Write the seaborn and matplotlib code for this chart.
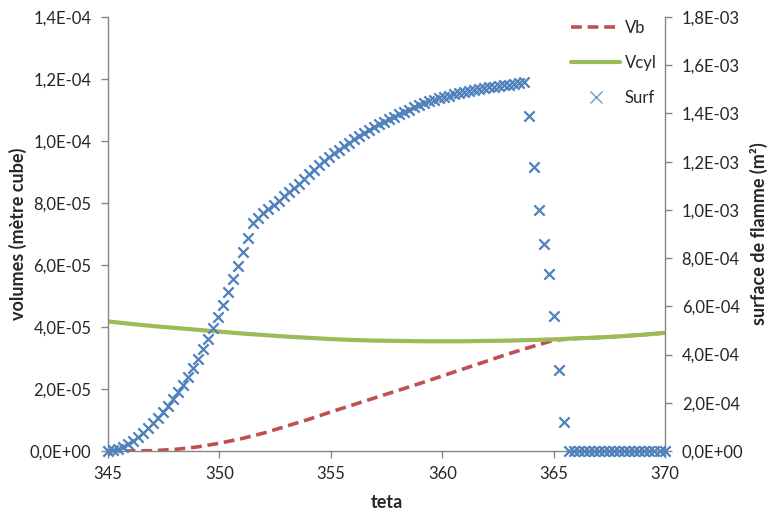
import numpy as np
import matplotlib
matplotlib.use("Agg")
import matplotlib.pyplot as plt
from matplotlib.ticker import FuncFormatter, MultipleLocator
from matplotlib.lines import Line2D
import seaborn as sns

# ---- data ----
teta = [345, 346, 347, 348, 349, 350, 351, 352, 353, 354, 355, 356, 357,
        358, 359, 360, 361, 362, 363, 364, 365, 366, 367, 368, 369, 370]

# volumes in 1e-5 m3
vb = [0.00, 0.00, 0.01, 0.05, 0.13, 0.25, 0.40, 0.58, 0.80, 1.02, 1.26, 1.49,
      1.72, 1.95, 2.18, 2.42, 2.66, 2.90, 3.14, 3.36, 3.57, 3.63, 3.66, 3.70,
      3.75, 3.81]
vcyl = [4.18, 4.10, 4.03, 3.97, 3.91, 3.85, 3.79, 3.74, 3.69, 3.65, 3.61, 3.58,
        3.56, 3.55, 3.54, 3.54, 3.54, 3.55, 3.56, 3.58, 3.60, 3.63, 3.66, 3.70,
        3.75, 3.81]

# flame surface in 1e-3 m2, one sample every surf_step degrees from 345
surf_step = 0.225
surf = [0.000, 0.004, 0.008, 0.017, 0.029, 0.041, 0.058, 0.075, 0.095, 0.116,
        0.137, 0.162, 0.187, 0.216, 0.245, 0.274, 0.307, 0.344, 0.382, 0.423,
        0.465, 0.510, 0.556, 0.606, 0.659, 0.713, 0.767, 0.825, 0.883, 0.946,
        0.966, 0.987, 1.004, 1.020, 1.037, 1.058, 1.074, 1.091, 1.107, 1.128,
        1.149, 1.165, 1.186, 1.203, 1.219, 1.236, 1.248, 1.265, 1.277, 1.294,
        1.306, 1.319, 1.331, 1.344, 1.356, 1.365, 1.377, 1.385, 1.398, 1.406,
        1.414, 1.427, 1.435, 1.443, 1.452, 1.456, 1.464, 1.468, 1.472, 1.481,
        1.485, 1.489, 1.493, 1.497, 1.501, 1.506, 1.510, 1.510, 1.514, 1.518,
        1.518, 1.522, 1.526, 1.530,
        1.389, 1.178, 1.000, 0.858, 0.734, 0.560, 0.336, 0.120,
        0.0, 0.0, 0.0, 0.0, 0.0, 0.0, 0.0, 0.0, 0.0, 0.0,
        0.0, 0.0, 0.0, 0.0, 0.0, 0.0, 0.0, 0.0, 0.0, 0.0]

RED = "#C0504D"
GREEN = "#9BBB59"
BLUE = "#4F81BD"
GREY = "#868686"
TXT = "#262626"

sns.set_style("ticks")
plt.rcParams["font.family"] = ["Lato", "DejaVu Sans"]

teta_arr = np.array(teta, dtype=float)
teta_surf = 345 + surf_step * np.arange(len(surf))

fig = plt.figure(figsize=(7.72, 5.14), dpi=100)
ax = fig.add_axes([0.14, 0.1226, 0.7215, 0.8444])
ax2 = ax.twinx()

sns.lineplot(x=teta_arr, y=np.array(vb) * 1e-5, ax=ax, color=RED, linewidth=2.6, legend=False)
sns.lineplot(x=teta_arr, y=np.array(vcyl) * 1e-5, ax=ax, color=GREEN, linewidth=3.0, legend=False)
ax.lines[0].set_dashes([3, 1.6])
sns.scatterplot(x=teta_surf, y=np.array(surf) * 1e-3, ax=ax2, marker="x", color=BLUE,
                s=55, linewidth=1.6, legend=False, clip_on=False, zorder=5)

ax.set_xlim(345, 370)
ax.set_ylim(0, 1.4e-4)
ax2.set_ylim(0, 1.8e-3)
ax.xaxis.set_major_locator(MultipleLocator(5))
ax.yaxis.set_major_locator(MultipleLocator(2e-5))
ax2.yaxis.set_major_locator(MultipleLocator(2e-4))

fmt = FuncFormatter(lambda v, p: f"{v:.1E}".replace(".", ","))
ax.yaxis.set_major_formatter(fmt)
ax2.yaxis.set_major_formatter(fmt)

for a in (ax, ax2):
    a.spines["top"].set_visible(False)
    for s in ("left", "right", "bottom"):
        a.spines[s].set_color(GREY)
        a.spines[s].set_linewidth(1.0)
    a.tick_params(colors=GREY, labelcolor=TXT, length=5, width=1, labelsize=12, direction="out")
ax.spines["right"].set_visible(False)
ax2.spines["left"].set_visible(False)
ax2.spines["bottom"].set_visible(False)
ax.tick_params(axis="y", pad=7)
ax.tick_params(axis="x", pad=6)
ax2.tick_params(axis="y", pad=7)

ax.set_xlabel("teta", fontsize=13, fontweight="bold", color=TXT)
ax.set_ylabel("volumes (mètre cube)", fontsize=13, fontweight="bold", color=TXT)
ax2.set_ylabel("surface de flamme (m²)", fontsize=13, fontweight="bold", color=TXT, rotation=90)
ax.xaxis.set_label_coords(0.5, -0.099)
ax.yaxis.set_label_coords(-0.145, 0.5)
ax2.yaxis.set_label_coords(1.152, 0.5)

handles = [
    Line2D([], [], color=RED, linewidth=2.6, dashes=[3, 1.6]),
    Line2D([], [], color=GREEN, linewidth=3.0),
    Line2D([], [], color=BLUE, marker="x", linestyle="none", markersize=8, markeredgewidth=1.0, alpha=0.8),
]
fig.legend(handles, ["Vb", "Vcyl", "Surf"], loc="upper left", bbox_to_anchor=(0.729, 0.978),
           frameon=False, fontsize=12, handlelength=2.95, handletextpad=0.25,
           labelspacing=1.15, borderpad=0, labelcolor=TXT)

fig.savefig("out.png", dpi=100)
